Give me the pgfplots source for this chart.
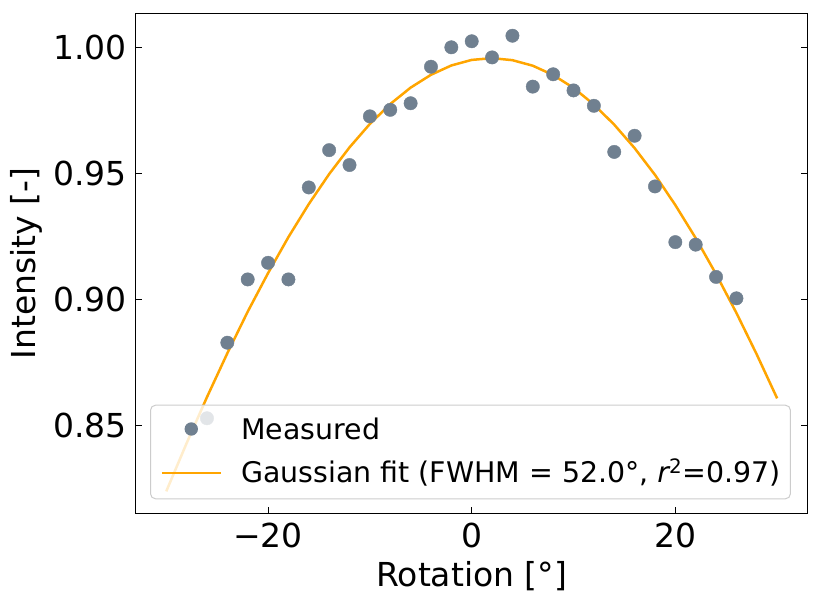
\documentclass[border=0pt]{standalone}
\usepackage{fontspec}
\setmainfont{DejaVu Sans}
\usepackage{pgfplots}
\pgfplotsset{compat=1.18}
\definecolor{slate}{HTML}{708090}
\definecolor{mplorange}{HTML}{FFA500}
\begin{document}
\begin{tikzpicture}
\begin{axis}[
  scale only axis, width=672pt, height=500pt,
  xmin=-33, xmax=33, ymin=0.8151, ymax=1.0135,
  axis line style={line width=1.1pt},
  tick align=inside, xtick pos=bottom, ytick pos=both,
  major tick length=6.5pt, tick style={line width=1pt, black},
  xtick={-20,0,20}, xticklabels={−20,0,20},
  ytick={0.85,0.90,0.95,1.00}, yticklabels={0.85,0.90,0.95,1.00},
  tick label style={font=\fontsize{33}{40}\selectfont, inner sep=0pt},
  xticklabel style={anchor=north, yshift=-9.4pt},
  yticklabel style={anchor=east, xshift=-8.7pt},
  label style={font=\fontsize{33}{40}\selectfont, inner sep=0pt},
  xlabel={Rotation [°]}, ylabel={Intensity [-]},
  xlabel style={at={(axis description cs:0.5,-0.146)}, anchor=base},
  ylabel style={at={(axis description cs:-0.138,0.5)}, anchor=south},
  legend cell align=left,
  legend style={
    at={(axis description cs:0.0213,0.028)}, anchor=south west,
    draw=black!20, line width=1pt, rounded corners=5pt,
    fill=white, fill opacity=0.8, text opacity=1, draw opacity=1,
    inner xsep=10pt, inner ysep=12.3pt,
    row sep=17pt, column sep=19.4pt,
    font=\fontsize{28.4}{34}\selectfont,
    nodes={inner sep=0pt, text height=22pt, text depth=4pt},
  },
]
\addplot[only marks, mark=*, mark size=6.7pt, color=slate,
  mark options={draw=slate, fill=slate},
  legend image code/.code={\path[draw=none, fill=none] (0pt,0pt) -- (59pt,0pt); \fill[slate, draw=none, opacity=1] (29.5pt,1.5pt) circle (6.7pt);}]
coordinates {
(-26,0.8528) (-24,0.8828) (-22,0.9079) (-20,0.9145) (-18,0.9079) (-16,0.9444)
(-14,0.9592) (-12,0.9533) (-10,0.9726) (-8,0.9752) (-6,0.9778) (-4,0.9923)
(-2,1.0000) (0,1.0024) (2,0.9960) (4,1.0046) (6,0.9844) (8,0.9893)
(10,0.9829) (12,0.9768) (14,0.9585) (16,0.9649) (18,0.9448) (20,0.9227)
(22,0.9217) (24,0.9089) (26,0.9004)
};
\addlegendentry{Measured}
\addplot[mplorange, line width=2.5pt,
  legend image code/.code={\draw[mplorange, line width=2.5pt, opacity=1] (0pt,0.5pt) -- (59pt,0.5pt);}]
coordinates {
(-30,0.8238) (-28,0.8429) (-26,0.8612) (-24,0.8786) (-22,0.8951) (-20,0.9104)
(-18,0.9247) (-16,0.9378) (-14,0.9497) (-12,0.9603) (-10,0.9696) (-8,0.9775)
(-6,0.9840) (-4,0.9891) (-2,0.9928) (0,0.9950) (2,0.9957) (4,0.9949)
(6,0.9927) (8,0.9890) (10,0.9839) (12,0.9773) (14,0.9693) (16,0.9600)
(18,0.9494) (20,0.9374) (22,0.9243) (24,0.9100) (26,0.8946) (28,0.8781)
(30,0.8607)
};
\addlegendentry{Gaussian fit (FWHM = 52.0°, {\itshape r}\textsuperscript{2}=0.97)}
\end{axis}
\pgfresetboundingbox
\path ([xshift=-135.7pt,yshift=-93.7pt]current axis.south west) rectangle ([xshift=13.3pt,yshift=13.3pt]current axis.north east);
\end{tikzpicture}
\end{document}
